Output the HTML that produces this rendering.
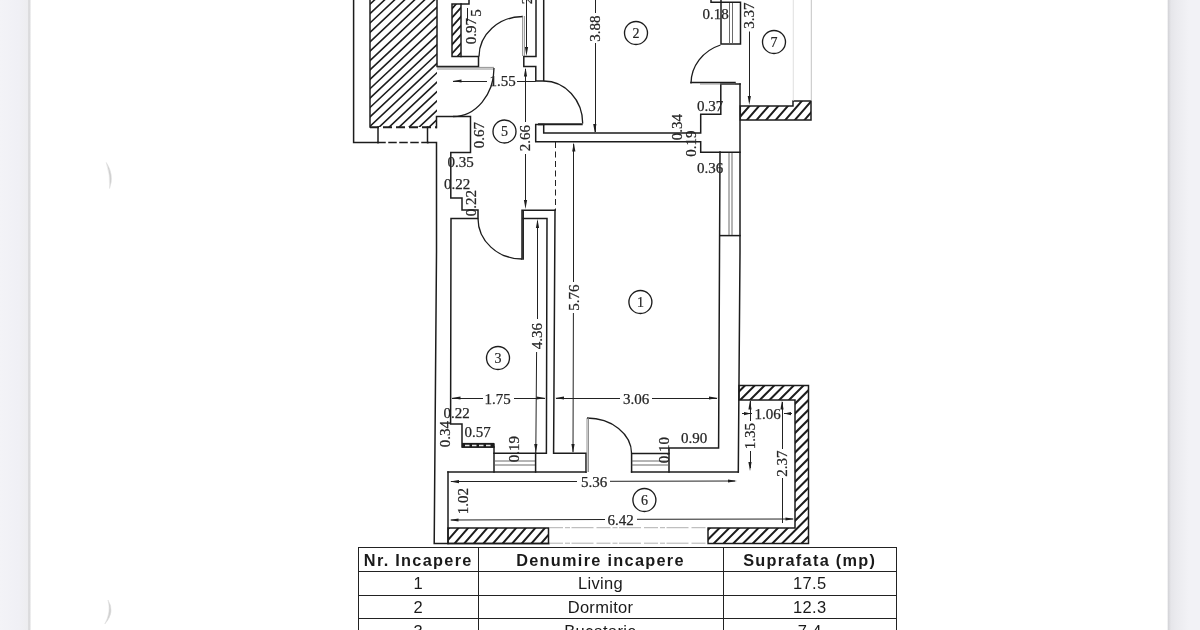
<!DOCTYPE html>
<html><head><meta charset="utf-8"><title>Plan</title>
<style>
html,body{margin:0;padding:0;background:#fff;}
body{width:1200px;height:630px;overflow:hidden;position:relative;font-family:"Liberation Sans",sans-serif;}
.lb{position:absolute;left:0;top:0;width:31px;height:630px;background:linear-gradient(to right,#f3f3f7 0,#f0f0f5 60%,#ededf0 27.5px,#dcdcde 28.5px,#dadadc 30px,#fff 31px);}
.rb{position:absolute;left:1167px;top:0;width:33px;height:630px;background:linear-gradient(to right,#fff 0,#d6d6da 1.5px,#e6e6ea 4px,#ebebef 10px,#f2f2f6 22px,#f2f2f6 100%);}
svg{position:absolute;left:0;top:0;}
.w{stroke:#1c1c1c;stroke-width:1.5;fill:none;stroke-linecap:square;stroke-linejoin:miter;}
.a{stroke:#1c1c1c;stroke-width:1.3;fill:none;}
.w2{stroke:#1e1e1e;stroke-width:2;fill:none;}
.wd{stroke:#e8e8e8;stroke-width:1.5;fill:none;stroke-dasharray:4.5 2.5;}
.g{stroke:#777;stroke-width:0.8;fill:none;}
.lg{stroke:#5a5a5a;stroke-width:0.9;fill:none;}
.lg2{stroke:#a8a8a8;stroke-width:0.9;fill:none;stroke-dasharray:14 2 5 1.5 22 3;}
.vlg{stroke:#d8d8d8;stroke-width:0.8;fill:none;}
.d{stroke:#222;stroke-width:1;fill:none;}
.ah{fill:#1e1e1e;stroke:none;}
.c{stroke:#1c1c1c;stroke-width:1.35;fill:#fff;}
.t{font-family:"Liberation Serif",serif;font-size:15px;fill:#262626;stroke:#262626;stroke-width:0.25;text-anchor:middle;}
.cn{font-family:"Liberation Serif",serif;font-size:14px;fill:#262626;stroke:#262626;stroke-width:0.2;text-anchor:middle;}
table{position:absolute;left:358px;top:547.1px;border-collapse:collapse;table-layout:fixed;width:538px;}
td,th{border:1.5px solid #222;height:22.8px;padding:0;text-align:center;font-size:16.5px;color:#1a1a1a;line-height:22px;font-weight:normal;white-space:nowrap;overflow:hidden;}
td{letter-spacing:0.3px;}
th{font-weight:bold;font-size:16.3px;letter-spacing:1.3px;padding-top:1.2px;line-height:20.8px;height:21.6px;}
table,.svgw{filter:blur(0.35px);}
.mk{position:absolute;color:#dcdce2;font-size:22px;font-family:"Liberation Sans",sans-serif;}
</style></head><body>
<div class="lb"></div><div class="rb"></div>
<svg class="svgw" width="1200" height="630" viewBox="0 0 1200 630">
<defs>
<pattern id="h" width="6" height="6" patternUnits="userSpaceOnUse">
<path d="M-1,7 L7,-1 M-1,1 L1,-1 M5,7 L7,5" stroke="#1e1e1e" stroke-width="1.15" fill="none"/>
</pattern>
</defs>
<g>
<clipPath id="cp1"><path d="M370,-3 L437,-3 L437,127 L370,127 Z"/></clipPath>
<path d="M-52.88,129 L89.82,-5 M-42.88,129 L99.82,-5 M-32.88,129 L109.82,-5 M-22.88,129 L119.82,-5 M-12.88,129 L129.82,-5 M-2.88,129 L139.82,-5 M7.12,129 L149.82,-5 M17.12,129 L159.82,-5 M27.12,129 L169.82,-5 M37.12,129 L179.82,-5 M47.12,129 L189.82,-5 M57.12,129 L199.82,-5 M67.12,129 L209.82,-5 M77.12,129 L219.82,-5 M87.12,129 L229.82,-5 M97.12,129 L239.82,-5 M107.12,129 L249.82,-5 M117.12,129 L259.82,-5 M127.12,129 L269.82,-5 M137.12,129 L279.82,-5 M147.12,129 L289.82,-5 M157.12,129 L299.82,-5 M167.12,129 L309.82,-5 M177.12,129 L319.82,-5 M187.12,129 L329.82,-5 M197.12,129 L339.82,-5 M207.12,129 L349.82,-5 M217.12,129 L359.82,-5 M227.12,129 L369.82,-5 M237.12,129 L379.82,-5 M247.12,129 L389.82,-5 M257.12,129 L399.82,-5 M267.12,129 L409.82,-5 M277.12,129 L419.82,-5 M287.12,129 L429.82,-5 M297.12,129 L439.82,-5 M307.12,129 L449.82,-5 M317.12,129 L459.82,-5 M327.12,129 L469.82,-5 M337.12,129 L479.82,-5 M347.12,129 L489.82,-5 M357.12,129 L499.82,-5 M367.12,129 L509.82,-5 M377.12,129 L519.82,-5 M387.12,129 L529.82,-5 M397.12,129 L539.82,-5 M407.12,129 L549.82,-5 M417.12,129 L559.82,-5 M427.12,129 L569.82,-5 M437.12,129 L579.82,-5 M447.12,129 L589.82,-5 M457.12,129 L599.82,-5 M467.12,129 L609.82,-5 M477.12,129 L619.82,-5 M487.12,129 L629.82,-5 M497.12,129 L639.82,-5 M507.12,129 L649.82,-5 M517.12,129 L659.82,-5 M527.12,129 L669.82,-5 M537.12,129 L679.82,-5 M547.12,129 L689.82,-5 M557.12,129 L699.82,-5 M567.12,129 L709.82,-5 M577.12,129 L719.82,-5 M587.12,129 L729.82,-5 M597.12,129 L739.82,-5" clip-path="url(#cp1)" style="stroke:#1c1c1c;stroke-width:1.6;fill:none"/>
<clipPath id="cp2"><path d="M452,4 L461,4 L461,56.5 L452,56.5 Z"/></clipPath>
<path d="M317.99,58.5 L368.86,2 M326.09,58.5 L376.96,2 M334.19,58.5 L385.06,2 M342.29,58.5 L393.16,2 M350.39,58.5 L401.26,2 M358.49,58.5 L409.36,2 M366.59,58.5 L417.46,2 M374.69,58.5 L425.56,2 M382.79,58.5 L433.66,2 M390.89,58.5 L441.76,2 M398.99,58.5 L449.86,2 M407.09,58.5 L457.96,2 M415.19,58.5 L466.06,2 M423.29,58.5 L474.16,2 M431.39,58.5 L482.26,2 M439.49,58.5 L490.36,2 M447.59,58.5 L498.46,2 M455.69,58.5 L506.56,2 M463.79,58.5 L514.66,2 M471.89,58.5 L522.76,2 M479.99,58.5 L530.86,2 M488.09,58.5 L538.96,2 M496.19,58.5 L547.06,2 M504.29,58.5 L555.16,2 M512.39,58.5 L563.26,2 M520.49,58.5 L571.36,2 M528.59,58.5 L579.46,2 M536.69,58.5 L587.56,2" clip-path="url(#cp2)" style="stroke:#1c1c1c;stroke-width:1.7;fill:none"/>
<clipPath id="cp3"><path d="M740.3,106 L793,106 L793,101 L811,101 L811,120 L740.3,120 Z"/></clipPath>
<path d="M687.56,122 L707.56,99 M697.16,122 L717.16,99 M706.76,122 L726.76,99 M716.36,122 L736.36,99 M725.96,122 L745.96,99 M735.56,122 L755.56,99 M745.16,122 L765.16,99 M754.76,122 L774.76,99 M764.36,122 L784.36,99 M773.96,122 L793.96,99 M783.56,122 L803.56,99 M793.16,122 L813.16,99 M802.76,122 L822.76,99 M812.36,122 L832.36,99 M821.96,122 L841.96,99 M831.56,122 L851.56,99 M841.16,122 L861.16,99 M850.76,122 L870.76,99 M860.36,122 L880.36,99" clip-path="url(#cp3)" style="stroke:#1c1c1c;stroke-width:2.0;fill:none"/>
<path d="M740.3,106 L793,106 L793,101 L811,101 L811,120 L740.3,120 Z" class="w"/>
<clipPath id="cp4"><path d="M739,385.5 L808.5,385.5 L808.5,543.6 L708,543.6 L708,528 L795,528 L795,400 L739,400 Z"/></clipPath>
<path d="M214.40,545.6 L376.50,383.5 M224.15,545.6 L386.25,383.5 M233.90,545.6 L396.00,383.5 M243.65,545.6 L405.75,383.5 M253.40,545.6 L415.50,383.5 M263.15,545.6 L425.25,383.5 M272.90,545.6 L435.00,383.5 M282.65,545.6 L444.75,383.5 M292.40,545.6 L454.50,383.5 M302.15,545.6 L464.25,383.5 M311.90,545.6 L474.00,383.5 M321.65,545.6 L483.75,383.5 M331.40,545.6 L493.50,383.5 M341.15,545.6 L503.25,383.5 M350.90,545.6 L513.00,383.5 M360.65,545.6 L522.75,383.5 M370.40,545.6 L532.50,383.5 M380.15,545.6 L542.25,383.5 M389.90,545.6 L552.00,383.5 M399.65,545.6 L561.75,383.5 M409.40,545.6 L571.50,383.5 M419.15,545.6 L581.25,383.5 M428.90,545.6 L591.00,383.5 M438.65,545.6 L600.75,383.5 M448.40,545.6 L610.50,383.5 M458.15,545.6 L620.25,383.5 M467.90,545.6 L630.00,383.5 M477.65,545.6 L639.75,383.5 M487.40,545.6 L649.50,383.5 M497.15,545.6 L659.25,383.5 M506.90,545.6 L669.00,383.5 M516.65,545.6 L678.75,383.5 M526.40,545.6 L688.50,383.5 M536.15,545.6 L698.25,383.5 M545.90,545.6 L708.00,383.5 M555.65,545.6 L717.75,383.5 M565.40,545.6 L727.50,383.5 M575.15,545.6 L737.25,383.5 M584.90,545.6 L747.00,383.5 M594.65,545.6 L756.75,383.5 M604.40,545.6 L766.50,383.5 M614.15,545.6 L776.25,383.5 M623.90,545.6 L786.00,383.5 M633.65,545.6 L795.75,383.5 M643.40,545.6 L805.50,383.5 M653.15,545.6 L815.25,383.5 M662.90,545.6 L825.00,383.5 M672.65,545.6 L834.75,383.5 M682.40,545.6 L844.50,383.5 M692.15,545.6 L854.25,383.5 M701.90,545.6 L864.00,383.5 M711.65,545.6 L873.75,383.5 M721.40,545.6 L883.50,383.5 M731.15,545.6 L893.25,383.5 M740.90,545.6 L903.00,383.5 M750.65,545.6 L912.75,383.5 M760.40,545.6 L922.50,383.5 M770.15,545.6 L932.25,383.5 M779.90,545.6 L942.00,383.5 M789.65,545.6 L951.75,383.5 M799.40,545.6 L961.50,383.5 M809.15,545.6 L971.25,383.5 M818.90,545.6 L981.00,383.5 M828.65,545.6 L990.75,383.5 M838.40,545.6 L1000.50,383.5 M848.15,545.6 L1010.25,383.5 M857.90,545.6 L1020.00,383.5 M867.65,545.6 L1029.75,383.5 M877.40,545.6 L1039.50,383.5 M887.15,545.6 L1049.25,383.5 M896.90,545.6 L1059.00,383.5 M906.65,545.6 L1068.75,383.5 M916.40,545.6 L1078.50,383.5 M926.15,545.6 L1088.25,383.5 M935.90,545.6 L1098.00,383.5 M945.65,545.6 L1107.75,383.5 M955.40,545.6 L1117.50,383.5 M965.15,545.6 L1127.25,383.5 M974.90,545.6 L1137.00,383.5" clip-path="url(#cp4)" style="stroke:#1c1c1c;stroke-width:2.0;fill:none"/>
<path d="M739,385.5 L808.5,385.5 L808.5,543.6 L708,543.6 L708,528 L795,528 L795,400 L739,400 Z" class="w"/>
<clipPath id="cp5"><path d="M448,528 L548.5,528 L548.5,543.6 L448,543.6 Z"/></clipPath>
<path d="M395.20,545.6 L412.24,526 M404.80,545.6 L421.84,526 M414.40,545.6 L431.44,526 M424.00,545.6 L441.04,526 M433.60,545.6 L450.64,526 M443.20,545.6 L460.24,526 M452.80,545.6 L469.84,526 M462.40,545.6 L479.44,526 M472.00,545.6 L489.04,526 M481.60,545.6 L498.64,526 M491.20,545.6 L508.24,526 M500.80,545.6 L517.84,526 M510.40,545.6 L527.44,526 M520.00,545.6 L537.04,526 M529.60,545.6 L546.64,526 M539.20,545.6 L556.24,526 M548.80,545.6 L565.84,526 M558.40,545.6 L575.44,526 M568.00,545.6 L585.04,526 M577.60,545.6 L594.64,526" clip-path="url(#cp5)" style="stroke:#1c1c1c;stroke-width:2.0;fill:none"/>
<path d="M448,528 L548.5,528 L548.5,543.6 L448,543.6 Z" class="w"/>
<path d="M353.6,-2 L353.6,142.5 L378,142.5" class="w" />
<line x1="378" y1="142.5" x2="428" y2="142.5" class="w" stroke-dasharray="7 4"/>
<path d="M428,142.5 L436.5,142.5 L436.5,252 L434.2,543.6 L549,543.6" class="w" />
<line x1="370" y1="-2" x2="370" y2="127" class="w" />
<line x1="370" y1="127.3" x2="437" y2="127.3" class="w2" stroke-dasharray="9 4"/>
<line x1="378" y1="127" x2="378" y2="142.5" class="w" />
<line x1="427.5" y1="127" x2="427.5" y2="142.5" class="w" />
<path d="M437,-2 L437,66.5 L478.5,66.5 L478.5,56.5 L452,56.5 L452,4 L469,4 L469,-2" class="w" />
<line x1="461" y1="4" x2="461" y2="56.5" class="w" />
<path d="M436.5,127.5 L436.5,116.5 L470.5,116.5 L470.5,152.5 L450.8,152.5 L450.8,198 L462,198 L462,210 L478,210 L478,218.5 L451,218.5 L450.6,424 L462,424 L462,447 L494,447" class="w" />
<rect x="462" y="442.9" width="32" height="4.9" fill="#1c1c1c"/>
<line x1="465" y1="445.4" x2="492" y2="445.4" class="wd" />
<path d="M494,444 L494,472" class="w" />
<path d="M536,-2 L536,56.5 L523.8,56.5 L523.8,66.5 L535.8,66.5 L535.8,81 L543.7,81 L543.7,-2" class="w" />
<path d="M522,259 L522,210.3 L555,210.3" class="w" />
<line x1="523.2" y1="211" x2="523.2" y2="259" class="w" />
<path d="M523,218.5 L547,218.5 L546.4,453.3 L494,453.3" class="w" />
<path d="M555,210.3 L553.6,453.3 L586,453.3 L586,472" class="w" />
<line x1="448" y1="472" x2="586" y2="472" class="w" />
<path d="M448,472 L448,543.6" class="w" />
<path d="M631.6,472 L631.6,453.6 L669,453.6" class="w" />
<path d="M631.6,472 L738.3,472" class="w" />
<path d="M669,472 L669,448 L718.6,448 L720,152" class="w" />
<path d="M740,84 L740,252 L738.3,472" class="w" />
<line x1="720" y1="235.6" x2="740" y2="235.6" class="w" />
<path d="M543.7,124.5 L535.7,124.5 L535.7,141.8 L700.7,141.8 L700.7,152.2 L740,152.2" class="w" />
<path d="M543.7,125 L543.7,133 L700.7,133 L700.7,114.2 L720.8,114.2 L720.8,84 L740,84" class="w" />
<path d="M711,-2 L711,2.3 L740.5,2.3 L740.5,44 L721,44 L721,-2" class="w" />
<path d="M479,56.5 A44,40 0 0 1 523,16.5" class="a" />
<line x1="522.6" y1="16" x2="522.6" y2="56" class="g" />
<line x1="524.4" y1="16" x2="524.4" y2="56" class="g" />
<line x1="437" y1="67.4" x2="494" y2="67.4" class="g" />
<line x1="437" y1="69" x2="494" y2="69" class="g" />
<path d="M494,68 A41,48.5 0 0 1 453,116.5" class="a" />
<path d="M543.7,81 A39,42.5 0 0 1 582.7,123.5" class="a" />
<line x1="538" y1="124.2" x2="582.7" y2="124.2" class="w2" />
<path d="M720.5,45 A44,40.8 0 0 0 691,83.5" class="a" />
<line x1="691" y1="82.6" x2="735" y2="82.6" class="w" />
<line x1="700" y1="84" x2="735" y2="84" class="g" />
<path d="M478,218.5 A44,40.5 0 0 0 522,259" class="a" />
<path d="M587,418 A44.6,35.6 0 0 1 631.6,453.6" class="a" />
<line x1="587" y1="418" x2="587" y2="472" class="g" />
<line x1="588.5" y1="418" x2="588.5" y2="472" class="g" />
<line x1="729.5" y1="3" x2="729.5" y2="44" class="lg" />
<line x1="732.5" y1="3" x2="732.5" y2="44" class="lg" />
<line x1="729" y1="153" x2="729" y2="235" class="lg" />
<line x1="732" y1="153" x2="732" y2="235" class="lg" />
<line x1="494" y1="461" x2="535.6" y2="461" class="lg" />
<line x1="631.6" y1="461" x2="669" y2="461" class="lg" />
<line x1="494" y1="465" x2="535.6" y2="465" class="lg" />
<line x1="631.6" y1="465" x2="669" y2="465" class="lg" />
<line x1="549" y1="527.7" x2="708" y2="527.7" class="lg2" />
<line x1="549" y1="543.2" x2="708" y2="543.2" class="lg2" />
<line x1="793.3" y1="-2" x2="793.3" y2="101" class="vlg" />
<line x1="811.3" y1="-2" x2="811.3" y2="101" class="vlg" style="stroke:#b4b4b4"/>
<line x1="453" y1="81.5" x2="487" y2="81.5" class="d" />
<line x1="517" y1="81.5" x2="535.8" y2="81.5" class="d" />
<polygon points="452.5,81 461.5,79.4 461.5,82.6" class="ah"/>
<line x1="526.5" y1="-2" x2="526.5" y2="53" class="d" />
<polygon points="526.5,56 524.9,47 528.1,47" class="ah"/>
<line x1="525.5" y1="69" x2="525.5" y2="122" class="d" />
<polygon points="525.5,67.5 523.9,76.5 527.1,76.5" class="ah"/>
<line x1="525.5" y1="154" x2="525.5" y2="206" class="d" />
<polygon points="525.5,209 523.9,200 527.1,200" class="ah"/>
<line x1="595.5" y1="-2" x2="595.5" y2="13" class="d" />
<line x1="595.5" y1="43" x2="595.5" y2="132" class="d" />
<polygon points="594.8,133 593.1999999999999,124 596.4,124" class="ah"/>
<line x1="749.5" y1="31.5" x2="749.5" y2="102" class="d" />
<polygon points="749.3,105 747.6999999999999,96 750.9,96" class="ah"/>
<line x1="573.5" y1="144" x2="573.5" y2="282" class="d" />
<polygon points="573.8,142.5 572.1999999999999,151.5 575.4,151.5" class="ah"/>
<line x1="573.4" y1="313" x2="573" y2="452" class="d" />
<polygon points="573,453 571.4,444 574.6,444" class="ah"/>
<line x1="537.5" y1="221" x2="537.5" y2="319" class="d" />
<polygon points="537.5,219 535.9,228 539.1,228" class="ah"/>
<line x1="536.6" y1="352" x2="535.8" y2="453" class="d" />
<polygon points="535.8,453 534.1999999999999,444 537.4,444" class="ah"/>
<line x1="535.6" y1="453.3" x2="535.6" y2="472" class="w" />
<line x1="555.5" y1="142" x2="555.5" y2="210" class="d" stroke-dasharray="6 3.5"/>
<line x1="452" y1="398.5" x2="483" y2="398.5" class="d" />
<line x1="514" y1="398.5" x2="545" y2="398.5" class="d" />
<polygon points="451.5,398 460.5,396.4 460.5,399.6" class="ah"/>
<polygon points="545.5,398 536.5,396.4 536.5,399.6" class="ah"/>
<line x1="556" y1="398.5" x2="620" y2="398.5" class="d" />
<line x1="652" y1="398.5" x2="717" y2="398.5" class="d" />
<polygon points="555,398 564,396.4 564,399.6" class="ah"/>
<polygon points="718,398 709,396.4 709,399.6" class="ah"/>
<line x1="451" y1="481.5" x2="577" y2="481.5" class="d" />
<line x1="610" y1="481.3" x2="735" y2="481" class="d" />
<polygon points="450,481.6 459,480.0 459,483.20000000000005" class="ah"/>
<polygon points="737,481 728,479.4 728,482.6" class="ah"/>
<line x1="451" y1="520" x2="605" y2="519.5" class="d" />
<line x1="637" y1="519.3" x2="793" y2="519" class="d" />
<polygon points="449.5,520 458.5,518.4 458.5,521.6" class="ah"/>
<polygon points="794.5,519 785.5,517.4 785.5,520.6" class="ah"/>
<line x1="742" y1="413.5" x2="752" y2="413.5" class="d" />
<line x1="784" y1="413.5" x2="792" y2="413.5" class="d" />
<polygon points="751,413.6 744,412.0 744,415.20000000000005" class="ah"/>
<polygon points="784,413.6 791,412.0 791,415.20000000000005" class="ah"/>
<line x1="750.5" y1="401" x2="750.5" y2="421" class="d" />
<polygon points="750,400.5 748.4,409.5 751.6,409.5" class="ah"/>
<line x1="750.5" y1="451" x2="750.5" y2="468" class="d" />
<polygon points="750,471 748.4,462 751.6,462" class="ah"/>
<line x1="782.5" y1="402" x2="782.5" y2="449" class="d" />
<polygon points="782,400.5 780.4,409.5 783.6,409.5" class="ah"/>
<line x1="782.5" y1="478" x2="782.5" y2="523" class="d" />
<text x="502.5" y="86.3" class="t">1.55</text>
<text x="600" y="28.7" class="t" transform="rotate(-90 600 28.7)">3.88</text>

<text x="715.5" y="19" class="t">0.18</text>
<text x="710" y="111.3" class="t">0.37</text>
<text x="710" y="173" class="t">0.36</text>
<text x="460.5" y="167" class="t">0.35</text>
<text x="457" y="189" class="t">0.22</text>
<text x="497.5" y="404" class="t">1.75</text>
<text x="636" y="404" class="t">3.06</text>
<text x="456.5" y="418" class="t">0.22</text>
<text x="477.5" y="437" class="t">0.57</text>
<text x="694" y="443" class="t">0.90</text>
<text x="594" y="487" class="t">5.36</text>
<text x="620.5" y="525.3" class="t">6.42</text>
<text x="767.5" y="419" class="t">1.06</text>
<text x="476" y="31" class="t" transform="rotate(-90 476 31)">0.97</text>
<text x="480.5" y="13" class="t" transform="rotate(-90 480.5 13)">5</text>
<text x="532" y="-9" class="t" transform="rotate(-90 532 -9)">2.35</text>
<text x="484" y="135" class="t" transform="rotate(-90 484 135)">0.67</text>
<text x="530.3" y="138" class="t" transform="rotate(-90 530.3 138)">2.66</text>
<text x="682" y="127" class="t" transform="rotate(-90 682 127)">0.34</text>
<text x="695.5" y="143.5" class="t" transform="rotate(-90 695.5 143.5)">0.19</text>
<text x="754.3" y="15.7" class="t" transform="rotate(-90 754.3 15.7)">3.37</text>
<text x="476" y="203" class="t" transform="rotate(-90 476 203)">0.22</text>
<text x="578.8" y="297.5" class="t" transform="rotate(-90 578.8 297.5)">5.76</text>
<text x="542" y="336" class="t" transform="rotate(-90 542 336)">4.36</text>
<text x="450" y="434" class="t" transform="rotate(-90 450 434)">0.34</text>
<text x="519" y="449" class="t" transform="rotate(-90 519 449)">0.19</text>
<text x="669" y="450" class="t" transform="rotate(-90 669 450)">0.10</text>
<text x="755" y="436" class="t" transform="rotate(-90 755 436)">1.35</text>
<text x="787" y="463.5" class="t" transform="rotate(-90 787 463.5)">2.37</text>
<text x="468" y="501" class="t" transform="rotate(-90 468 501)">1.02</text>
<path d="M106.3,162.5 Q114.6,175 109.6,188.5 Q110.6,175 106.3,162.5 Z" style="fill:#cecece;stroke:#e0e0e0;stroke-width:0.6;filter:blur(0.7px)"/>
<path d="M108,600 Q115.6,612 104.8,624 Q111.4,612 108,600 Z" style="fill:#cecece;stroke:#e0e0e0;stroke-width:0.6;filter:blur(0.7px)"/>
<line x1="467.5" y1="8" x2="467.5" y2="21" class="d" />
<circle cx="636" cy="33" r="11.5" class="c"/>
<text x="636" y="37.6" class="cn">2</text>
<circle cx="774" cy="42" r="11.5" class="c"/>
<text x="774" y="46.6" class="cn">7</text>
<circle cx="504.5" cy="131.5" r="11.5" class="c"/>
<text x="504.5" y="136.1" class="cn">5</text>
<circle cx="498" cy="358" r="11.5" class="c"/>
<text x="498" y="362.6" class="cn">3</text>
<circle cx="640.4" cy="302" r="11.5" class="c"/>
<text x="640.4" y="306.6" class="cn">1</text>
<circle cx="644.4" cy="500" r="11.5" class="c"/>
<text x="644.4" y="504.6" class="cn">6</text>
</g>
</svg>
<table>
<colgroup><col style="width:119.5px"><col style="width:245px"><col style="width:173.5px"></colgroup>
<tr><th>Nr. Incapere</th><th>Denumire incapere</th><th>Suprafata (mp)</th></tr>
<tr><td>1</td><td>Living</td><td>17.5</td></tr>
<tr><td>2</td><td>Dormitor</td><td>12.3</td></tr>
<tr><td>3</td><td>Bucatarie</td><td>7.4</td></tr>
<tr><td>4</td><td>Baie</td><td>3.2</td></tr>
</table>
</body></html>
